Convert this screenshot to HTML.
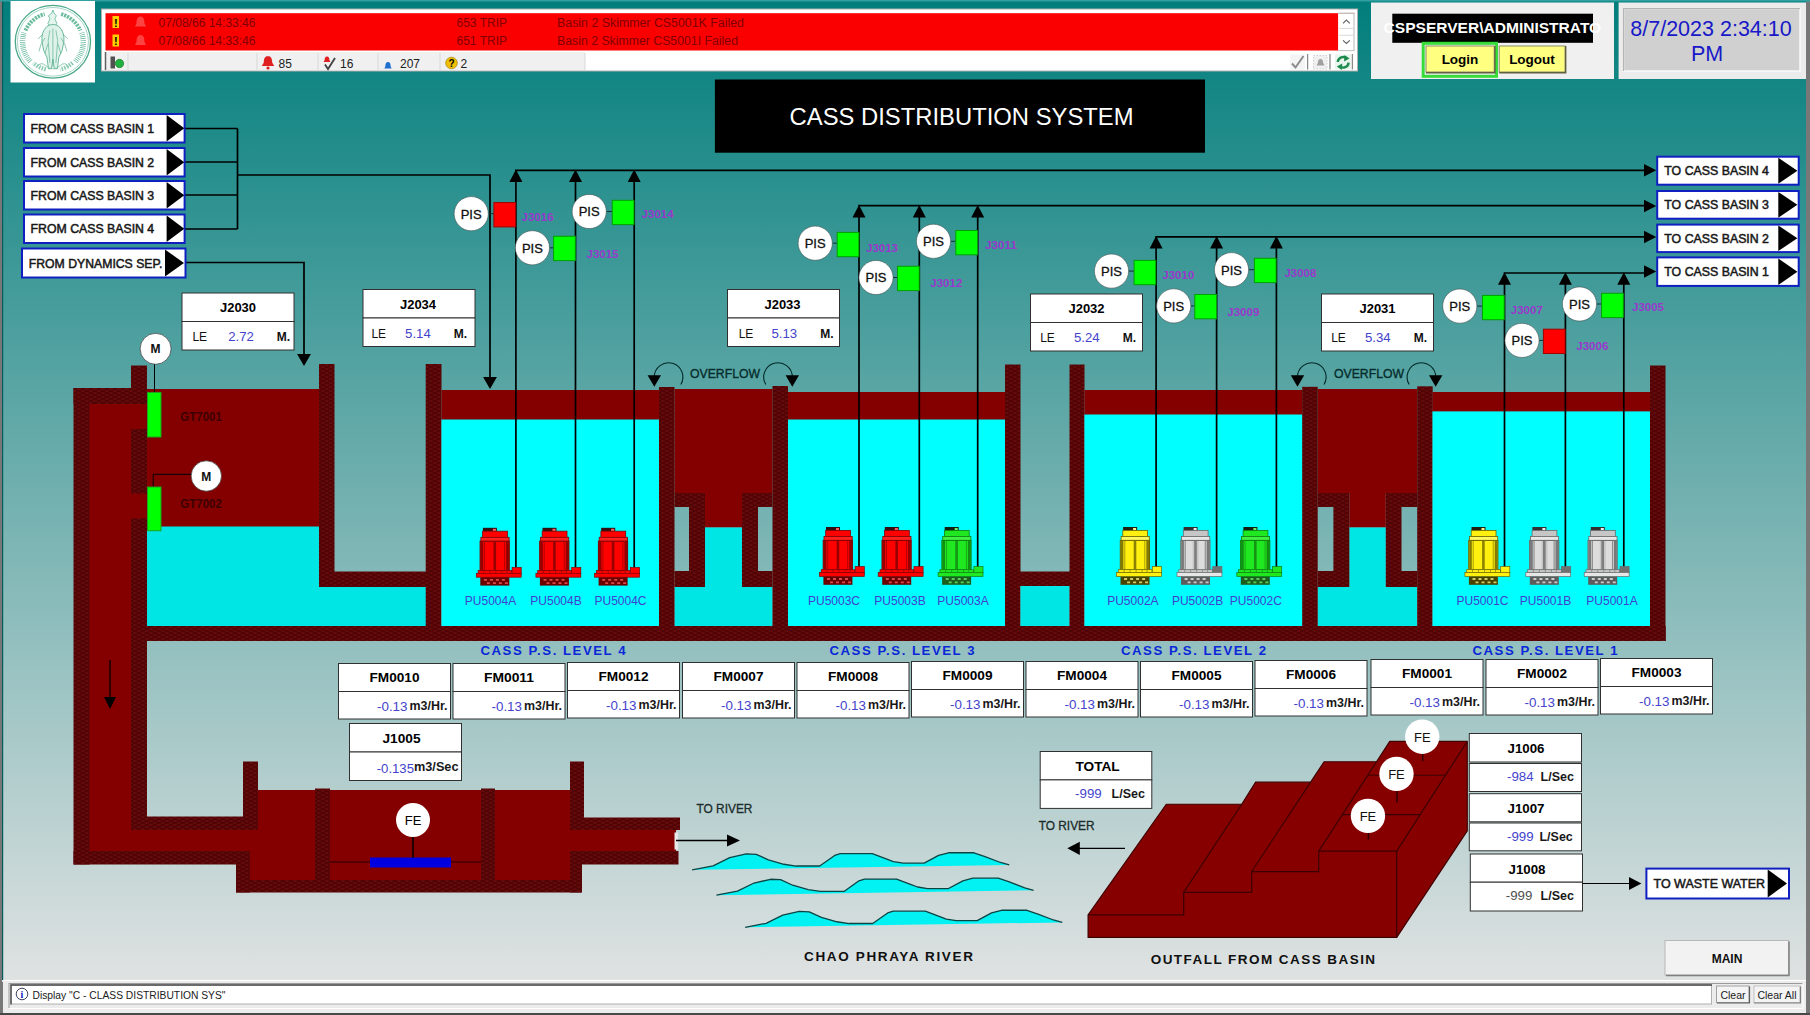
<!DOCTYPE html>
<html><head><meta charset="utf-8"><title>CASS DISTRIBUTION SYSTEM</title>
<style>html,body{margin:0;padding:0;background:#787878;overflow:hidden}svg{display:block}</style>
</head><body>
<svg width="1810" height="1015" viewBox="0 0 1810 1015" font-family="Liberation Sans, Arial, sans-serif" shape-rendering="auto">
<defs>
<linearGradient id="bg" x1="0" y1="0" x2="0" y2="1">
<stop offset="0" stop-color="#017e7c"/><stop offset="1" stop-color="#e0e2e2"/>
</linearGradient>
<pattern id="brick" width="8" height="4" patternUnits="userSpaceOnUse">
<rect width="8" height="4" fill="#620a0c"/>
<rect x="0.5" y="0.4" width="4.6" height="1.2" fill="#470000"/>
<rect x="4.5" y="2.4" width="3.5" height="1.2" fill="#470000"/><rect x="0" y="2.4" width="1.1" height="1.2" fill="#470000"/>
</pattern>
</defs>
<rect x="0" y="0" width="1810" height="1015" fill="#787878" />
<rect x="2" y="1" width="1804" height="981" fill="url(#bg)" />
<rect x="2" y="1" width="1.2" height="979" fill="#045c5c" />
<rect x="0" y="0" width="1810" height="1.5" fill="#30a0a0" />
<rect x="10.5" y="1" width="84.5" height="81.5" fill="#ffffff" />
<g transform="translate(52.9,41.8) scale(0.995,0.962)" fill="none" stroke="#4aa888">
<circle r="37.8" stroke-width="1.3"/><circle r="35.700" stroke-width="0.7" stroke="#7cc4a8"/>
<path d="M-22.67 20.41 A30.5 30.5 0 0 1 -29.01 -9.43" stroke-width="5.500" stroke-dasharray="0.7 1.25" stroke="#5cb496"/>
<path d="M29.01 -9.43 A30.5 30.5 0 0 1 22.67 20.41" stroke-width="5.500" stroke-dasharray="0.7 1.25" stroke="#5cb496"/>
<path d="M-27.62 -11.72 A30 30 0 0 1 -8.27 -28.84" stroke-width="4" stroke-dasharray="2.2 1" stroke="#6cbc9e"/>
<path d="M8.27 -28.84 A30 30 0 0 1 27.62 -11.72" stroke-width="4" stroke-dasharray="2.2 1" stroke="#6cbc9e"/>
<path d="M19.74 21.92 A29.5 29.5 0 0 1 7.14 28.62" stroke-width="4.500" stroke-dasharray="1.6 1.2" stroke="#8cccb4"/>
<path d="M-7.14 28.62 A29.5 29.5 0 0 1 -19.74 21.92" stroke-width="4.500" stroke-dasharray="1.6 1.2" stroke="#8cccb4"/>
<path d="M-1 -30 l1 -3 l1 3 l2.500 3 l-1.500 3 l2 5 l-2 3 l-5 0 l-2 -3 l2 -5 l-1.500 -3z" fill="#e4f5ed" stroke-width="0.7"/>
<path d="M-6 -16 q6 -4 12 0 q6 6 5 16 q-1 10 -5 16 l-1.500 12 l-3 0 l-1.500 -10 l-1.500 10 l-3 0 l-1.500 -12 q-4 -6 -5 -16 q-1 -10 5 -16z" fill="#e0f3ea" stroke-width="0.8"/>
<path d="M-3 -12 q-3 10 -1 22 l1 12 M3 -12 q3 10 1 22 l-1 12 M0 -14 v40 M-8 -4 q-5 6 -6 14 M8 -4 q5 6 6 14 M-10 -8 l-5 5 M10 -8 l5 5 M-5 2 l-3 10 M5 2 l3 10" stroke-width="0.7" stroke="#5cb094"/>
<path d="M-16 26 q4 -6 9 -1 q3 3 7 3 q4 0 7 -3 q5 -5 9 1" stroke-width="0.9" stroke="#7cc4a8"/>
</g>
<rect x="101.5" y="9" width="1256" height="62" fill="#ffffff" stroke="#b0b0b0" stroke-width="1" />
<rect x="105.5" y="13.2" width="1232.8" height="37.3" fill="#fb0000" />
<rect x="1338.3" y="13.2" width="15.2" height="37.3" fill="#ffffff" />
<path d="M1354 13 L1354 51" fill="none" stroke="#c4c4c4" stroke-width="1.2" />
<path d="M1338.3 13.2 L1354.5 13.2" fill="none" stroke="#b0a0a0" stroke-width="1" />
<path d="M1339 28.4 L1353 28.4" fill="none" stroke="#d0d0d0" stroke-width="0.8" />
<path d="M1339 35.3 L1353 35.3" fill="none" stroke="#d0d0d0" stroke-width="0.8" />
<path d="M1338.3 50.6 L1354.5 50.6" fill="none" stroke="#c0c0c0" stroke-width="1" />
<path d="M1343 23.3 L1346.4 20.1 L1349.8 23.3" fill="none" stroke="#606060" stroke-width="1.1" />
<path d="M1343 40.3 L1346.4 43.5 L1349.8 40.3" fill="none" stroke="#606060" stroke-width="1.1" />
<rect x="105.5" y="52" width="479.5" height="18" fill="#f0f0f0" />
<path d="M128 53 L128 70" fill="none" stroke="#d8d8d8" stroke-width="1" />
<path d="M257 53 L257 70" fill="none" stroke="#d8d8d8" stroke-width="1" />
<path d="M318 53 L318 70" fill="none" stroke="#d8d8d8" stroke-width="1" />
<path d="M378 53 L378 70" fill="none" stroke="#d8d8d8" stroke-width="1" />
<path d="M440 53 L440 70" fill="none" stroke="#d8d8d8" stroke-width="1" />
<path d="M585 53 L585 70" fill="none" stroke="#d8d8d8" stroke-width="1" />
<path d="M105.5 52 L105.5 70" fill="none" stroke="#606060" stroke-width="1.5" />
<rect x="112.5" y="16" width="6.5" height="12" fill="#ffcc00" />
<text x="115.8" y="26.5" font-size="11" fill="#000" font-weight="bold" text-anchor="middle" >!</text>
<path d="M140.5 16.5 c-3 0 -4 3 -4 7 l-1.5 3 h11 l-1.5 -3 c0 -4 -1 -7 -4 -7z" fill="#ff5a5a" opacity="0.75"/>
<text x="158.5" y="26.5" font-size="12" fill="#800000" font-weight="normal" text-anchor="start" textLength="97" lengthAdjust="spacingAndGlyphs">07/08/66 14:33:46</text>
<text x="456.5" y="26.5" font-size="12" fill="#800000" font-weight="normal" text-anchor="start" >653 TRIP</text>
<text x="557" y="26.5" font-size="12" fill="#800000" font-weight="normal" text-anchor="start" textLength="187" lengthAdjust="spacingAndGlyphs">Basin 2 Skimmer CS5001K Failed</text>
<rect x="112.5" y="34.5" width="6.5" height="12" fill="#ffcc00" />
<text x="115.8" y="45" font-size="11" fill="#000" font-weight="bold" text-anchor="middle" >!</text>
<path d="M140.5 35 c-3 0 -4 3 -4 7 l-1.5 3 h11 l-1.5 -3 c0 -4 -1 -7 -4 -7z" fill="#ff5a5a" opacity="0.75"/>
<text x="158.5" y="45" font-size="12" fill="#800000" font-weight="normal" text-anchor="start" textLength="97" lengthAdjust="spacingAndGlyphs">07/08/66 14:33:46</text>
<text x="456.5" y="45" font-size="12" fill="#800000" font-weight="normal" text-anchor="start" >651 TRIP</text>
<text x="557" y="45" font-size="12" fill="#800000" font-weight="normal" text-anchor="start" textLength="181" lengthAdjust="spacingAndGlyphs">Basin 2 Skimmer CS5001I Failed</text>
<rect x="110.5" y="56.5" width="4.5" height="12" fill="#505050" />
<circle cx="119.5" cy="63.5" r="4.2" fill="#20b040" stroke="#107020" stroke-width="0.6"/>
<path d="M268 56 c-3.2 0 -4.2 3 -4.2 6.5 l-2 3.5 h12.4 l-2 -3.5 c0 -3.5 -1 -6.5 -4.2 -6.5z" fill="#e02020"/><circle cx="268" cy="68" r="1.6" fill="#e02020"/>
<text x="278.5" y="67.5" font-size="12" fill="#202020" font-weight="normal" text-anchor="start" >85</text>
<path d="M327 56.5 c-1.8 0 -2.4 1.6 -2.4 3.6 l-1 1.8 h6.8 l-1 -1.8 c0 -2 -0.6 -3.6 -2.4 -3.6z" fill="#e02020"/>
<path d="M325 64.5 L328 69 L335 58" fill="none" stroke="#404040" stroke-width="1.8" />
<text x="340" y="67.5" font-size="12" fill="#202020" font-weight="normal" text-anchor="start" >16</text>
<path d="M388 62 c-2 0 -2.6 2 -2.6 4 l-1 2.4 h7.2 l-1 -2.4 c0 -2 -0.6 -4 -2.6 -4z" fill="#2070d0"/>
<text x="400" y="67.5" font-size="12" fill="#202020" font-weight="normal" text-anchor="start" >207</text>
<circle cx="451.5" cy="63" r="5.8" fill="#f0c000" stroke="#a08000" stroke-width="0.7"/>
<text x="451.5" y="67" font-size="10" fill="#000" font-weight="bold" text-anchor="middle" >?</text>
<text x="460.5" y="67.5" font-size="12" fill="#202020" font-weight="normal" text-anchor="start" >2</text>
<rect x="1290" y="54.5" width="15" height="15" fill="#f4f4f4" />
<path d="M1292 63.5 L1295.5 67.5 L1303.5 56" fill="none" stroke="#8c8c8c" stroke-width="2" />
<path d="M1307.6 54 L1307.6 69.5" fill="none" stroke="#8a8a8a" stroke-width="1.3" />
<rect x="1313.5" y="55.5" width="13.5" height="13.5" fill="#f0f0f0" stroke="#c4c4c4" stroke-width="0.8" stroke-dasharray="1.5 1.5"/>
<path d="M1320.5 59 c-2 0 -2.600 2 -2.600 3.800 l-1.400 2.600 h8 l-1.400 -2.600 c0 -1.800 -0.600 -3.800 -2.600 -3.800z" fill="#a0a0a0"/>
<path d="M1330 54 L1330 69.5" fill="none" stroke="#8a8a8a" stroke-width="1.3" />
<rect x="1335" y="54.5" width="16" height="15" fill="#e8f6ee" />
<path d="M1337.800 62 a5.400 5.400 0 0 1 9 -3.600" fill="none" stroke="#1e8a4e" stroke-width="2.400"/><path d="M1348.600 62.600 a5.400 5.400 0 0 1 -9 3.600" fill="none" stroke="#1e8a4e" stroke-width="2.400"/>
<polygon points="1344.5,55 1349.5,58.5 1344,61.5" fill="#1e8a4e" />
<polygon points="1341.8,70 1336.8,66.5 1342.3,63.5" fill="#1e8a4e" />
<path d="M1352.4 54 L1352.4 69.5" fill="none" stroke="#8a8a8a" stroke-width="1.3" />
<rect x="1371" y="2.5" width="243" height="76.5" fill="#f0f0f0" />
<rect x="1392.3" y="13.7" width="200.7" height="29.1" fill="#000000" />
<text x="1383.6" y="33" font-size="14" fill="#ffffff" font-weight="bold" text-anchor="start" textLength="217.6" lengthAdjust="spacingAndGlyphs">CSPSERVER\ADMINISTRATO</text>
<rect x="1423.2" y="43.3" width="73.3" height="33" fill="none" stroke="#38dc38" stroke-width="3" />
<rect x="1426" y="46" width="68.2" height="26" fill="#ffff80" stroke="#8c8c6c" stroke-width="1" />
<text x="1460" y="64" font-size="13.5" fill="#000" font-weight="bold" text-anchor="middle" >Login</text>
<rect x="1499.2" y="46" width="65.8" height="26" fill="#ffff80" stroke="#8c8c6c" stroke-width="1" />
<text x="1532" y="64" font-size="13.5" fill="#000" font-weight="bold" text-anchor="middle" >Logout</text>
<path d="M1426 72.8 L1494.9 72.8 L1494.9 46" fill="none" stroke="#606040" stroke-width="1.4" />
<path d="M1499.2 72.8 L1565.7 72.8 L1565.7 46" fill="none" stroke="#606040" stroke-width="1.4" />
<rect x="1618.6" y="2.5" width="187.4" height="76.5" fill="#ececec" />
<rect x="1623.5" y="8.7" width="176.5" height="62.3" fill="#d0d0d0" stroke="#fafafa" stroke-width="1.5" />
<path d="M1623.5 71 L1623.5 8.7 L1800 8.7" fill="none" stroke="#b4b4b4" stroke-width="1.2" />
<text x="1711" y="36" font-size="21.5" fill="#1818c8" font-weight="normal" text-anchor="middle" >8/7/2023 2:34:10</text>
<text x="1707" y="61" font-size="21.5" fill="#1818c8" font-weight="normal" text-anchor="middle" >PM</text>
<rect x="714.9" y="79.5" width="490.1" height="73.2" fill="#000000" />
<text x="789.6" y="124.6" font-size="24.6" fill="#ffffff" font-weight="normal" text-anchor="start" textLength="344" lengthAdjust="spacingAndGlyphs">CASS DISTRIBUTION SYSTEM</text>
<path d="M185 128.5 L237.5 128.5" fill="none" stroke="#000" stroke-width="1.7" />
<path d="M185 162 L237.5 162" fill="none" stroke="#000" stroke-width="1.7" />
<path d="M185 195 L237.5 195" fill="none" stroke="#000" stroke-width="1.7" />
<path d="M185 229 L237.5 229" fill="none" stroke="#000" stroke-width="1.7" />
<path d="M237.5 128.5 L237.5 229" fill="none" stroke="#000" stroke-width="1.7" />
<path d="M237.5 175 L490 175 L490 380" fill="none" stroke="#000" stroke-width="1.7" />
<polygon points="490,389 483.1,377 496.9,377" fill="#000" />
<path d="M186 262.5 L304 262.5 L304 356" fill="none" stroke="#000" stroke-width="1.7" />
<polygon points="304,366 297.1,354 310.9,354" fill="#000" />
<rect x="89" y="403" width="42" height="449" fill="#840000" />
<rect x="131" y="404" width="16" height="26" fill="#840000" />
<rect x="131" y="493" width="16" height="26" fill="#840000" />
<rect x="89" y="830" width="169" height="22" fill="#840000" />
<rect x="147" y="389" width="172" height="138" fill="#840000" />
<rect x="147" y="526.5" width="172" height="99.5" fill="#00e6e4" />
<rect x="319" y="587" width="107" height="39" fill="#00e6e4" />
<rect x="73.5" y="388" width="16" height="476.5" fill="url(#brick)" />
<rect x="73.5" y="388" width="73.5" height="16" fill="url(#brick)" />
<rect x="131" y="365.5" width="16" height="38.5" fill="url(#brick)" />
<rect x="131" y="429" width="16" height="64.5" fill="url(#brick)" />
<rect x="131" y="518.5" width="16" height="311.5" fill="url(#brick)" />
<rect x="146" y="816.5" width="112" height="13.5" fill="url(#brick)" />
<rect x="73.5" y="851" width="176.5" height="13.5" fill="url(#brick)" />
<rect x="319" y="364" width="15.5" height="223" fill="url(#brick)" />
<rect x="319" y="571.5" width="107" height="15.5" fill="url(#brick)" />
<rect x="425.7" y="364" width="15.8" height="277" fill="url(#brick)" />
<rect x="147" y="626" width="1518.5" height="15" fill="url(#brick)" />
<rect x="441.5" y="390" width="217.5" height="30" fill="#840000" />
<rect x="441.5" y="419.5" width="217.5" height="206.5" fill="#00ffff" />
<rect x="674.5" y="389" width="98" height="104" fill="#840000" />
<rect x="705" y="493" width="37" height="34.5" fill="#840000" />
<rect x="705" y="527.5" width="37" height="60.5" fill="#00e6e4" />
<rect x="674.5" y="587" width="98" height="39" fill="#00e6e4" />
<rect x="659" y="387" width="15.5" height="239" fill="url(#brick)" />
<rect x="772.5" y="386" width="15.5" height="240" fill="url(#brick)" />
<path fill-rule="evenodd" fill="url(#brick)" d="M674.5 493H705V587H674.5Z M674.5 507H689V571H674.5Z"/>
<path fill-rule="evenodd" fill="url(#brick)" d="M742 493H772.5V587H742Z M758 507H772.5V571H758Z"/>
<rect x="788" y="392" width="217" height="28" fill="#840000" />
<rect x="788" y="419.5" width="217" height="206.5" fill="#00ffff" />
<rect x="1005" y="364.5" width="15.5" height="276.5" fill="url(#brick)" />
<rect x="1020" y="571.5" width="50" height="14.5" fill="url(#brick)" />
<rect x="1020.5" y="586" width="49" height="40" fill="#00e6e4" />
<rect x="1069.5" y="364.5" width="15" height="276.5" fill="url(#brick)" />
<rect x="1084.5" y="390" width="218" height="25" fill="#840000" />
<rect x="1084.5" y="414.5" width="218" height="211.5" fill="#00ffff" />
<rect x="1317.7" y="389" width="99.5" height="104" fill="#840000" />
<rect x="1349.3" y="493" width="36.5" height="34.5" fill="#840000" />
<rect x="1349.3" y="527.5" width="36.5" height="60.5" fill="#00e6e4" />
<rect x="1317.7" y="587" width="99.5" height="39" fill="#00e6e4" />
<rect x="1302.2" y="386.8" width="15.5" height="239.2" fill="url(#brick)" />
<rect x="1417.2" y="386.3" width="15.5" height="239.7" fill="url(#brick)" />
<path fill-rule="evenodd" fill="url(#brick)" d="M1317.7 493H1349.3V587H1317.7Z M1317.7 507H1333.4V571H1317.7Z"/>
<path fill-rule="evenodd" fill="url(#brick)" d="M1385.8 493H1417.2V587H1385.8Z M1401.5 507H1417.2V571H1401.5Z"/>
<rect x="1432.5" y="392" width="217.5" height="20" fill="#840000" />
<rect x="1432.5" y="411.4" width="217.5" height="214.6" fill="#00ffff" />
<rect x="1650" y="365.5" width="15.5" height="275.5" fill="url(#brick)" />
<rect x="147" y="626" width="1518.5" height="15" fill="url(#brick)" />
<rect x="258" y="790" width="312" height="90" fill="#840000" />
<rect x="570" y="830" width="106" height="21" fill="#840000" />
<rect x="250" y="851" width="8" height="29" fill="#840000" />
<rect x="243" y="761.5" width="15" height="68.5" fill="url(#brick)" />
<rect x="236" y="851" width="14" height="41.5" fill="url(#brick)" />
<rect x="236" y="880" width="345.5" height="12.5" fill="url(#brick)" />
<rect x="315" y="788.5" width="15" height="91.5" fill="url(#brick)" />
<rect x="481" y="788.5" width="14" height="91.5" fill="url(#brick)" />
<rect x="570" y="761.5" width="14" height="68.5" fill="url(#brick)" />
<rect x="570" y="817.5" width="110" height="12.5" fill="url(#brick)" />
<rect x="570" y="851" width="12" height="41.5" fill="url(#brick)" />
<rect x="570" y="851" width="108.5" height="13.5" fill="url(#brick)" />
<rect x="674.5" y="832.5" width="3.5" height="17" fill="#e8e8e8" />
<path d="M330 862 L481 862" fill="none" stroke="#200000" stroke-width="1" />
<rect x="370" y="857.5" width="81" height="10" fill="#0000e0" />
<path d="M413 836 L413 858" fill="none" stroke="#000" stroke-width="1.5" />
<circle cx="413" cy="820" r="17" fill="#ffffff"/>
<text x="413" y="825" font-size="13" fill="#000" font-weight="normal" text-anchor="middle" >FE</text>
<path d="M676 840.5 L728 840.5" fill="none" stroke="#000" stroke-width="1.3" />
<polygon points="740,840.5 727,834.5 727,846.5" fill="#000" />
<text x="696.5" y="813" font-size="12" fill="#1c2c2c" font-weight="normal" text-anchor="start" textLength="55.9" lengthAdjust="spacingAndGlyphs" stroke="#1c2c2c" stroke-width="0.3">TO RIVER</text>
<path d="M110 660 L110 698" fill="none" stroke="#000" stroke-width="1.3" />
<polygon points="110,709 104,697 116,697" fill="#000" />
<path d="M515.05 170.3 L1646 170.3" fill="none" stroke="#000" stroke-width="1.7" />
<polygon points="1656.2,170.3 1644,164.1 1644,176.5" fill="#000" />
<path d="M515.9 178.3 L515.9 567" fill="none" stroke="#000" stroke-width="1.7" />
<polygon points="515.9,169.5 509.4,182 522.4,182" fill="#000" />
<path d="M575.5 178.3 L575.5 567" fill="none" stroke="#000" stroke-width="1.7" />
<polygon points="575.5,169.5 569,182 582,182" fill="#000" />
<path d="M634.2 178.3 L634.2 567" fill="none" stroke="#000" stroke-width="1.7" />
<polygon points="634.2,169.5 627.7,182 640.7,182" fill="#000" />
<path d="M858.15 205.7 L1646 205.7" fill="none" stroke="#000" stroke-width="1.7" />
<polygon points="1656.2,206 1644,199.8 1644,212.2" fill="#000" />
<path d="M859 213.7 L859 567" fill="none" stroke="#000" stroke-width="1.7" />
<polygon points="859,204.9 852.5,217.4 865.5,217.4" fill="#000" />
<path d="M919.3 213.7 L919.3 567" fill="none" stroke="#000" stroke-width="1.7" />
<polygon points="919.3,204.9 912.8,217.4 925.8,217.4" fill="#000" />
<path d="M977.7 213.7 L977.7 567" fill="none" stroke="#000" stroke-width="1.7" />
<polygon points="977.7,204.9 971.2,217.4 984.2,217.4" fill="#000" />
<path d="M1155.25 236.8 L1646 236.8" fill="none" stroke="#000" stroke-width="1.7" />
<polygon points="1656.2,237 1644,230.8 1644,243.2" fill="#000" />
<path d="M1156.1 244.8 L1156.1 567" fill="none" stroke="#000" stroke-width="1.7" />
<polygon points="1156.1,236 1149.6,248.5 1162.6,248.5" fill="#000" />
<path d="M1216.6 244.8 L1216.6 567" fill="none" stroke="#000" stroke-width="1.7" />
<polygon points="1216.6,236 1210.1,248.5 1223.1,248.5" fill="#000" />
<path d="M1276.4 244.8 L1276.4 567" fill="none" stroke="#000" stroke-width="1.7" />
<polygon points="1276.4,236 1269.9,248.5 1282.9,248.5" fill="#000" />
<path d="M1503.65 273 L1646 273" fill="none" stroke="#000" stroke-width="1.7" />
<polygon points="1656.2,271.5 1644,265.3 1644,277.7" fill="#000" />
<path d="M1504.5 281 L1504.5 567" fill="none" stroke="#000" stroke-width="1.7" />
<polygon points="1504.5,272.2 1498,284.7 1511,284.7" fill="#000" />
<path d="M1565.4 281 L1565.4 567" fill="none" stroke="#000" stroke-width="1.7" />
<polygon points="1565.4,272.2 1558.9,284.7 1571.9,284.7" fill="#000" />
<path d="M1623.8 281 L1623.8 567" fill="none" stroke="#000" stroke-width="1.7" />
<polygon points="1623.8,272.2 1617.3,284.7 1630.3,284.7" fill="#000" />
<g transform="translate(0,0)">
<g transform="translate(515.9,0.8)">
<rect x="-33" y="527" width="14" height="3.8" fill="#301010"/><rect x="-23" y="528" width="3" height="2.4" fill="#ff6060"/>
<rect x="-33.3" y="530.4" width="24.8" height="6.3" fill="#ff0000" stroke="#800000" stroke-width="0.8"/>
<rect x="-35" y="536.5" width="28.2" height="4" fill="#ff2020" stroke="#800000" stroke-width="0.8"/>
<rect x="-35.8" y="540.4" width="29.2" height="29.5" fill="#ff0000" stroke="#800000" stroke-width="1"/>
<rect x="-35.3" y="540.9" width="2.6" height="28.6" fill="#800000" opacity="0.85"/><rect x="-9.8" y="540.9" width="2.8" height="28.6" fill="#800000" opacity="0.85"/>
<rect x="-31.8" y="540.9" width="1" height="28.6" fill="#800000" opacity="0.6"/><rect x="-11.8" y="540.9" width="1" height="28.6" fill="#800000" opacity="0.6"/>
<rect x="-22.4" y="540.9" width="2.6" height="28.6" fill="#800000" opacity="0.8"/>
<rect x="-35.6" y="576.3" width="29" height="8.5" fill="#6a0000"/>
<path d="M-32 579h3 M-26 579h3 M-20 579h3 M-14 579h3 M-29 582.3h3 M-23 582.3h3 M-17 582.3h3 M-11 582.3h3" stroke="#ff6060" stroke-width="1.8" opacity="0.75"/>
<rect x="-37.8" y="569.7" width="33.7" height="3" fill="#ff0000" stroke="#800000" stroke-width="0.7"/>
<path d="M-32 570v2.5 M-26 570v2.5 M-20 570v2.5 M-14 570v2.5 M-9 570v2.5" stroke="#800000" stroke-width="0.8" opacity="0.7"/>
<rect x="-3.8" y="566.6" width="9.1" height="6.5" fill="#ff0000" stroke="#800000" stroke-width="0.7"/>
<rect x="-39.6" y="572.5" width="44.9" height="3.9" fill="#ff0000" stroke="#800000" stroke-width="0.7"/>
</g>
</g>
<text x="490.5" y="604.5" font-size="12" fill="#4040d0" font-weight="normal" text-anchor="middle" >PU5004A</text>
<g transform="translate(0,0)">
<g transform="translate(575.5,0.8)">
<rect x="-33" y="527" width="14" height="3.8" fill="#301010"/><rect x="-23" y="528" width="3" height="2.4" fill="#ff6060"/>
<rect x="-33.3" y="530.4" width="24.8" height="6.3" fill="#ff0000" stroke="#800000" stroke-width="0.8"/>
<rect x="-35" y="536.5" width="28.2" height="4" fill="#ff2020" stroke="#800000" stroke-width="0.8"/>
<rect x="-35.8" y="540.4" width="29.2" height="29.5" fill="#ff0000" stroke="#800000" stroke-width="1"/>
<rect x="-35.3" y="540.9" width="2.6" height="28.6" fill="#800000" opacity="0.85"/><rect x="-9.8" y="540.9" width="2.8" height="28.6" fill="#800000" opacity="0.85"/>
<rect x="-31.8" y="540.9" width="1" height="28.6" fill="#800000" opacity="0.6"/><rect x="-11.8" y="540.9" width="1" height="28.6" fill="#800000" opacity="0.6"/>
<rect x="-22.4" y="540.9" width="2.6" height="28.6" fill="#800000" opacity="0.8"/>
<rect x="-35.6" y="576.3" width="29" height="8.5" fill="#6a0000"/>
<path d="M-32 579h3 M-26 579h3 M-20 579h3 M-14 579h3 M-29 582.3h3 M-23 582.3h3 M-17 582.3h3 M-11 582.3h3" stroke="#ff6060" stroke-width="1.8" opacity="0.75"/>
<rect x="-37.8" y="569.7" width="33.7" height="3" fill="#ff0000" stroke="#800000" stroke-width="0.7"/>
<path d="M-32 570v2.5 M-26 570v2.5 M-20 570v2.5 M-14 570v2.5 M-9 570v2.5" stroke="#800000" stroke-width="0.8" opacity="0.7"/>
<rect x="-3.8" y="566.6" width="9.1" height="6.5" fill="#ff0000" stroke="#800000" stroke-width="0.7"/>
<rect x="-39.6" y="572.5" width="44.9" height="3.9" fill="#ff0000" stroke="#800000" stroke-width="0.7"/>
</g>
</g>
<text x="556" y="604.5" font-size="12" fill="#4040d0" font-weight="normal" text-anchor="middle" >PU5004B</text>
<g transform="translate(0,0)">
<g transform="translate(634.2,0.8)">
<rect x="-33" y="527" width="14" height="3.8" fill="#301010"/><rect x="-23" y="528" width="3" height="2.4" fill="#ff6060"/>
<rect x="-33.3" y="530.4" width="24.8" height="6.3" fill="#ff0000" stroke="#800000" stroke-width="0.8"/>
<rect x="-35" y="536.5" width="28.2" height="4" fill="#ff2020" stroke="#800000" stroke-width="0.8"/>
<rect x="-35.8" y="540.4" width="29.2" height="29.5" fill="#ff0000" stroke="#800000" stroke-width="1"/>
<rect x="-35.3" y="540.9" width="2.6" height="28.6" fill="#800000" opacity="0.85"/><rect x="-9.8" y="540.9" width="2.8" height="28.6" fill="#800000" opacity="0.85"/>
<rect x="-31.8" y="540.9" width="1" height="28.6" fill="#800000" opacity="0.6"/><rect x="-11.8" y="540.9" width="1" height="28.6" fill="#800000" opacity="0.6"/>
<rect x="-22.4" y="540.9" width="2.6" height="28.6" fill="#800000" opacity="0.8"/>
<rect x="-35.6" y="576.3" width="29" height="8.5" fill="#6a0000"/>
<path d="M-32 579h3 M-26 579h3 M-20 579h3 M-14 579h3 M-29 582.3h3 M-23 582.3h3 M-17 582.3h3 M-11 582.3h3" stroke="#ff6060" stroke-width="1.8" opacity="0.75"/>
<rect x="-37.8" y="569.7" width="33.7" height="3" fill="#ff0000" stroke="#800000" stroke-width="0.7"/>
<path d="M-32 570v2.5 M-26 570v2.5 M-20 570v2.5 M-14 570v2.5 M-9 570v2.5" stroke="#800000" stroke-width="0.8" opacity="0.7"/>
<rect x="-3.8" y="566.6" width="9.1" height="6.5" fill="#ff0000" stroke="#800000" stroke-width="0.7"/>
<rect x="-39.6" y="572.5" width="44.9" height="3.9" fill="#ff0000" stroke="#800000" stroke-width="0.7"/>
</g>
</g>
<text x="620.5" y="604.5" font-size="12" fill="#4040d0" font-weight="normal" text-anchor="middle" >PU5004C</text>
<g transform="translate(0,0)">
<g transform="translate(859,0)">
<rect x="-33" y="527" width="14" height="3.8" fill="#301010"/><rect x="-23" y="528" width="3" height="2.4" fill="#ff6060"/>
<rect x="-33.3" y="530.4" width="24.8" height="6.3" fill="#ff0000" stroke="#800000" stroke-width="0.8"/>
<rect x="-35" y="536.5" width="28.2" height="4" fill="#ff2020" stroke="#800000" stroke-width="0.8"/>
<rect x="-35.8" y="540.4" width="29.2" height="29.5" fill="#ff0000" stroke="#800000" stroke-width="1"/>
<rect x="-35.3" y="540.9" width="2.6" height="28.6" fill="#800000" opacity="0.85"/><rect x="-9.8" y="540.9" width="2.8" height="28.6" fill="#800000" opacity="0.85"/>
<rect x="-31.8" y="540.9" width="1" height="28.6" fill="#800000" opacity="0.6"/><rect x="-11.8" y="540.9" width="1" height="28.6" fill="#800000" opacity="0.6"/>
<rect x="-22.4" y="540.9" width="2.6" height="28.6" fill="#800000" opacity="0.8"/>
<rect x="-35.6" y="576.3" width="29" height="8.5" fill="#6a0000"/>
<path d="M-32 579h3 M-26 579h3 M-20 579h3 M-14 579h3 M-29 582.3h3 M-23 582.3h3 M-17 582.3h3 M-11 582.3h3" stroke="#ff6060" stroke-width="1.8" opacity="0.75"/>
<rect x="-37.8" y="569.7" width="33.7" height="3" fill="#ff0000" stroke="#800000" stroke-width="0.7"/>
<path d="M-32 570v2.5 M-26 570v2.5 M-20 570v2.5 M-14 570v2.5 M-9 570v2.5" stroke="#800000" stroke-width="0.8" opacity="0.7"/>
<rect x="-3.8" y="566.6" width="9.1" height="6.5" fill="#ff0000" stroke="#800000" stroke-width="0.7"/>
<rect x="-39.6" y="572.5" width="44.9" height="3.9" fill="#ff0000" stroke="#800000" stroke-width="0.7"/>
</g>
</g>
<text x="834" y="604.5" font-size="12" fill="#4040d0" font-weight="normal" text-anchor="middle" >PU5003C</text>
<g transform="translate(-1.5,0)">
<g transform="translate(919.3,0)">
<rect x="-33" y="527" width="14" height="3.8" fill="#301010"/><rect x="-23" y="528" width="3" height="2.4" fill="#ff6060"/>
<rect x="-33.3" y="530.4" width="24.8" height="6.3" fill="#ff0000" stroke="#800000" stroke-width="0.8"/>
<rect x="-35" y="536.5" width="28.2" height="4" fill="#ff2020" stroke="#800000" stroke-width="0.8"/>
<rect x="-35.8" y="540.4" width="29.2" height="29.5" fill="#ff0000" stroke="#800000" stroke-width="1"/>
<rect x="-35.3" y="540.9" width="2.6" height="28.6" fill="#800000" opacity="0.85"/><rect x="-9.8" y="540.9" width="2.8" height="28.6" fill="#800000" opacity="0.85"/>
<rect x="-31.8" y="540.9" width="1" height="28.6" fill="#800000" opacity="0.6"/><rect x="-11.8" y="540.9" width="1" height="28.6" fill="#800000" opacity="0.6"/>
<rect x="-22.4" y="540.9" width="2.6" height="28.6" fill="#800000" opacity="0.8"/>
<rect x="-35.6" y="576.3" width="29" height="8.5" fill="#6a0000"/>
<path d="M-32 579h3 M-26 579h3 M-20 579h3 M-14 579h3 M-29 582.3h3 M-23 582.3h3 M-17 582.3h3 M-11 582.3h3" stroke="#ff6060" stroke-width="1.8" opacity="0.75"/>
<rect x="-37.8" y="569.7" width="33.7" height="3" fill="#ff0000" stroke="#800000" stroke-width="0.7"/>
<path d="M-32 570v2.5 M-26 570v2.5 M-20 570v2.5 M-14 570v2.5 M-9 570v2.5" stroke="#800000" stroke-width="0.8" opacity="0.7"/>
<rect x="-3.8" y="566.6" width="9.1" height="6.5" fill="#ff0000" stroke="#800000" stroke-width="0.7"/>
<rect x="-39.6" y="572.5" width="44.9" height="3.9" fill="#ff0000" stroke="#800000" stroke-width="0.7"/>
</g>
</g>
<text x="900" y="604.5" font-size="12" fill="#4040d0" font-weight="normal" text-anchor="middle" >PU5003B</text>
<g transform="translate(0,0)">
<g transform="translate(977.7,0)">
<rect x="-33" y="527" width="14" height="3.8" fill="#102010"/><rect x="-23" y="528" width="3" height="2.4" fill="#70f070"/>
<rect x="-33.3" y="530.4" width="24.8" height="6.3" fill="#20e820" stroke="#108010" stroke-width="0.8"/>
<rect x="-35" y="536.5" width="28.2" height="4" fill="#40f040" stroke="#108010" stroke-width="0.8"/>
<rect x="-35.8" y="540.4" width="29.2" height="29.5" fill="#20e820" stroke="#108010" stroke-width="1"/>
<rect x="-35.3" y="540.9" width="2.6" height="28.6" fill="#108010" opacity="0.85"/><rect x="-9.8" y="540.9" width="2.8" height="28.6" fill="#108010" opacity="0.85"/>
<rect x="-31.8" y="540.9" width="1" height="28.6" fill="#108010" opacity="0.6"/><rect x="-11.8" y="540.9" width="1" height="28.6" fill="#108010" opacity="0.6"/>
<rect x="-22.4" y="540.9" width="2.6" height="28.6" fill="#108010" opacity="0.8"/>
<rect x="-35.6" y="576.3" width="29" height="8.5" fill="#1c5c1c"/>
<path d="M-32 579h3 M-26 579h3 M-20 579h3 M-14 579h3 M-29 582.3h3 M-23 582.3h3 M-17 582.3h3 M-11 582.3h3" stroke="#70f070" stroke-width="1.8" opacity="0.75"/>
<rect x="-37.8" y="569.7" width="33.7" height="3" fill="#20e820" stroke="#108010" stroke-width="0.7"/>
<path d="M-32 570v2.5 M-26 570v2.5 M-20 570v2.5 M-14 570v2.5 M-9 570v2.5" stroke="#108010" stroke-width="0.8" opacity="0.7"/>
<rect x="-3.8" y="566.6" width="9.1" height="6.5" fill="#20e820" stroke="#108010" stroke-width="0.7"/>
<rect x="-39.6" y="572.5" width="44.9" height="3.9" fill="#20e820" stroke="#108010" stroke-width="0.7"/>
</g>
</g>
<text x="963" y="604.5" font-size="12" fill="#4040d0" font-weight="normal" text-anchor="middle" >PU5003A</text>
<g transform="translate(0,0)">
<g transform="translate(1156.1,0)">
<rect x="-33" y="527" width="14" height="3.8" fill="#202010"/><rect x="-23" y="528" width="3" height="2.4" fill="#fff890"/>
<rect x="-33.3" y="530.4" width="24.8" height="6.3" fill="#fff010" stroke="#6e6600" stroke-width="0.8"/>
<rect x="-35" y="536.5" width="28.2" height="4" fill="#fff860" stroke="#6e6600" stroke-width="0.8"/>
<rect x="-35.8" y="540.4" width="29.2" height="29.5" fill="#fff010" stroke="#6e6600" stroke-width="1"/>
<rect x="-35.3" y="540.9" width="2.6" height="28.6" fill="#6e6600" opacity="0.85"/><rect x="-9.8" y="540.9" width="2.8" height="28.6" fill="#6e6600" opacity="0.85"/>
<rect x="-31.8" y="540.9" width="1" height="28.6" fill="#6e6600" opacity="0.6"/><rect x="-11.8" y="540.9" width="1" height="28.6" fill="#6e6600" opacity="0.6"/>
<rect x="-22.4" y="540.9" width="2.6" height="28.6" fill="#6e6600" opacity="0.8"/>
<rect x="-35.6" y="576.3" width="29" height="8.5" fill="#484400"/>
<path d="M-32 579h3 M-26 579h3 M-20 579h3 M-14 579h3 M-29 582.3h3 M-23 582.3h3 M-17 582.3h3 M-11 582.3h3" stroke="#fff890" stroke-width="1.8" opacity="0.75"/>
<rect x="-37.8" y="569.7" width="33.7" height="3" fill="#fff010" stroke="#6e6600" stroke-width="0.7"/>
<path d="M-32 570v2.5 M-26 570v2.5 M-20 570v2.5 M-14 570v2.5 M-9 570v2.5" stroke="#6e6600" stroke-width="0.8" opacity="0.7"/>
<rect x="-3.8" y="566.6" width="9.1" height="6.5" fill="#fff010" stroke="#6e6600" stroke-width="0.7"/>
<rect x="-39.6" y="572.5" width="44.9" height="3.9" fill="#fff010" stroke="#6e6600" stroke-width="0.7"/>
</g>
</g>
<text x="1132.9" y="604.5" font-size="12" fill="#4040d0" font-weight="normal" text-anchor="middle" >PU5002A</text>
<g transform="translate(0,0)">
<g transform="translate(1216.6,0)">
<rect x="-33" y="527" width="14" height="3.8" fill="#303030"/><rect x="-23" y="528" width="3" height="2.4" fill="#f0f0f0"/>
<rect x="-33.3" y="530.4" width="24.8" height="6.3" fill="#c6c6c6" stroke="#6a6a6a" stroke-width="0.8"/>
<rect x="-35" y="536.5" width="28.2" height="4" fill="#e6e6e6" stroke="#6a6a6a" stroke-width="0.8"/>
<rect x="-35.8" y="540.4" width="29.2" height="29.5" fill="#c6c6c6" stroke="#6a6a6a" stroke-width="1"/>
<rect x="-31" y="541" width="7" height="28.5" fill="#dcdcdc"/><rect x="-18" y="541" width="6" height="28.5" fill="#dcdcdc"/>
<rect x="-35.3" y="540.9" width="2.6" height="28.6" fill="#6a6a6a" opacity="0.85"/><rect x="-9.8" y="540.9" width="2.8" height="28.6" fill="#6a6a6a" opacity="0.85"/>
<rect x="-31.8" y="540.9" width="1" height="28.6" fill="#6a6a6a" opacity="0.6"/><rect x="-11.8" y="540.9" width="1" height="28.6" fill="#6a6a6a" opacity="0.6"/>
<rect x="-22.4" y="540.9" width="2.6" height="28.6" fill="#6a6a6a" opacity="0.8"/>
<rect x="-35.6" y="576.3" width="29" height="8.5" fill="#5c5c5c"/>
<path d="M-32 579h3 M-26 579h3 M-20 579h3 M-14 579h3 M-29 582.3h3 M-23 582.3h3 M-17 582.3h3 M-11 582.3h3" stroke="#f0f0f0" stroke-width="1.8" opacity="0.75"/>
<rect x="-37.8" y="569.7" width="33.7" height="3" fill="#c6c6c6" stroke="#6a6a6a" stroke-width="0.7"/>
<path d="M-32 570v2.5 M-26 570v2.5 M-20 570v2.5 M-14 570v2.5 M-9 570v2.5" stroke="#6a6a6a" stroke-width="0.8" opacity="0.7"/>
<rect x="-3.8" y="566.6" width="9.1" height="6.5" fill="#707070" stroke="#6a6a6a" stroke-width="0.7"/>
<rect x="-39.6" y="572.5" width="44.9" height="3.9" fill="#e6e6e6" stroke="#6a6a6a" stroke-width="0.7"/>
</g>
</g>
<text x="1197.6" y="604.5" font-size="12" fill="#4040d0" font-weight="normal" text-anchor="middle" >PU5002B</text>
<g transform="translate(0,0)">
<g transform="translate(1276.4,0)">
<rect x="-33" y="527" width="14" height="3.8" fill="#102010"/><rect x="-23" y="528" width="3" height="2.4" fill="#70f070"/>
<rect x="-33.3" y="530.4" width="24.8" height="6.3" fill="#20e820" stroke="#108010" stroke-width="0.8"/>
<rect x="-35" y="536.5" width="28.2" height="4" fill="#40f040" stroke="#108010" stroke-width="0.8"/>
<rect x="-35.8" y="540.4" width="29.2" height="29.5" fill="#20e820" stroke="#108010" stroke-width="1"/>
<rect x="-35.3" y="540.9" width="2.6" height="28.6" fill="#108010" opacity="0.85"/><rect x="-9.8" y="540.9" width="2.8" height="28.6" fill="#108010" opacity="0.85"/>
<rect x="-31.8" y="540.9" width="1" height="28.6" fill="#108010" opacity="0.6"/><rect x="-11.8" y="540.9" width="1" height="28.6" fill="#108010" opacity="0.6"/>
<rect x="-22.4" y="540.9" width="2.6" height="28.6" fill="#108010" opacity="0.8"/>
<rect x="-35.6" y="576.3" width="29" height="8.5" fill="#1c5c1c"/>
<path d="M-32 579h3 M-26 579h3 M-20 579h3 M-14 579h3 M-29 582.3h3 M-23 582.3h3 M-17 582.3h3 M-11 582.3h3" stroke="#70f070" stroke-width="1.8" opacity="0.75"/>
<rect x="-37.8" y="569.7" width="33.7" height="3" fill="#20e820" stroke="#108010" stroke-width="0.7"/>
<path d="M-32 570v2.5 M-26 570v2.5 M-20 570v2.5 M-14 570v2.5 M-9 570v2.5" stroke="#108010" stroke-width="0.8" opacity="0.7"/>
<rect x="-3.8" y="566.6" width="9.1" height="6.5" fill="#20e820" stroke="#108010" stroke-width="0.7"/>
<rect x="-39.6" y="572.5" width="44.9" height="3.9" fill="#20e820" stroke="#108010" stroke-width="0.7"/>
</g>
</g>
<text x="1255.8" y="604.5" font-size="12" fill="#4040d0" font-weight="normal" text-anchor="middle" >PU5002C</text>
<g transform="translate(0,0)">
<g transform="translate(1504.5,0)">
<rect x="-33" y="527" width="14" height="3.8" fill="#202010"/><rect x="-23" y="528" width="3" height="2.4" fill="#fff890"/>
<rect x="-33.3" y="530.4" width="24.8" height="6.3" fill="#fff010" stroke="#6e6600" stroke-width="0.8"/>
<rect x="-35" y="536.5" width="28.2" height="4" fill="#fff860" stroke="#6e6600" stroke-width="0.8"/>
<rect x="-35.8" y="540.4" width="29.2" height="29.5" fill="#fff010" stroke="#6e6600" stroke-width="1"/>
<rect x="-35.3" y="540.9" width="2.6" height="28.6" fill="#6e6600" opacity="0.85"/><rect x="-9.8" y="540.9" width="2.8" height="28.6" fill="#6e6600" opacity="0.85"/>
<rect x="-31.8" y="540.9" width="1" height="28.6" fill="#6e6600" opacity="0.6"/><rect x="-11.8" y="540.9" width="1" height="28.6" fill="#6e6600" opacity="0.6"/>
<rect x="-22.4" y="540.9" width="2.6" height="28.6" fill="#6e6600" opacity="0.8"/>
<rect x="-35.6" y="576.3" width="29" height="8.5" fill="#484400"/>
<path d="M-32 579h3 M-26 579h3 M-20 579h3 M-14 579h3 M-29 582.3h3 M-23 582.3h3 M-17 582.3h3 M-11 582.3h3" stroke="#fff890" stroke-width="1.8" opacity="0.75"/>
<rect x="-37.8" y="569.7" width="33.7" height="3" fill="#fff010" stroke="#6e6600" stroke-width="0.7"/>
<path d="M-32 570v2.5 M-26 570v2.5 M-20 570v2.5 M-14 570v2.5 M-9 570v2.5" stroke="#6e6600" stroke-width="0.8" opacity="0.7"/>
<rect x="-3.8" y="566.6" width="9.1" height="6.5" fill="#fff010" stroke="#6e6600" stroke-width="0.7"/>
<rect x="-39.6" y="572.5" width="44.9" height="3.9" fill="#fff010" stroke="#6e6600" stroke-width="0.7"/>
</g>
</g>
<text x="1482.5" y="604.5" font-size="12" fill="#4040d0" font-weight="normal" text-anchor="middle" >PU5001C</text>
<g transform="translate(0,0)">
<g transform="translate(1565.4,0)">
<rect x="-33" y="527" width="14" height="3.8" fill="#303030"/><rect x="-23" y="528" width="3" height="2.4" fill="#f0f0f0"/>
<rect x="-33.3" y="530.4" width="24.8" height="6.3" fill="#c6c6c6" stroke="#6a6a6a" stroke-width="0.8"/>
<rect x="-35" y="536.5" width="28.2" height="4" fill="#e6e6e6" stroke="#6a6a6a" stroke-width="0.8"/>
<rect x="-35.8" y="540.4" width="29.2" height="29.5" fill="#c6c6c6" stroke="#6a6a6a" stroke-width="1"/>
<rect x="-31" y="541" width="7" height="28.5" fill="#dcdcdc"/><rect x="-18" y="541" width="6" height="28.5" fill="#dcdcdc"/>
<rect x="-35.3" y="540.9" width="2.6" height="28.6" fill="#6a6a6a" opacity="0.85"/><rect x="-9.8" y="540.9" width="2.8" height="28.6" fill="#6a6a6a" opacity="0.85"/>
<rect x="-31.8" y="540.9" width="1" height="28.6" fill="#6a6a6a" opacity="0.6"/><rect x="-11.8" y="540.9" width="1" height="28.6" fill="#6a6a6a" opacity="0.6"/>
<rect x="-22.4" y="540.9" width="2.6" height="28.6" fill="#6a6a6a" opacity="0.8"/>
<rect x="-35.6" y="576.3" width="29" height="8.5" fill="#5c5c5c"/>
<path d="M-32 579h3 M-26 579h3 M-20 579h3 M-14 579h3 M-29 582.3h3 M-23 582.3h3 M-17 582.3h3 M-11 582.3h3" stroke="#f0f0f0" stroke-width="1.8" opacity="0.75"/>
<rect x="-37.8" y="569.7" width="33.7" height="3" fill="#c6c6c6" stroke="#6a6a6a" stroke-width="0.7"/>
<path d="M-32 570v2.5 M-26 570v2.5 M-20 570v2.5 M-14 570v2.5 M-9 570v2.5" stroke="#6a6a6a" stroke-width="0.8" opacity="0.7"/>
<rect x="-3.8" y="566.6" width="9.1" height="6.5" fill="#707070" stroke="#6a6a6a" stroke-width="0.7"/>
<rect x="-39.6" y="572.5" width="44.9" height="3.9" fill="#e6e6e6" stroke="#6a6a6a" stroke-width="0.7"/>
</g>
</g>
<text x="1545.5" y="604.5" font-size="12" fill="#4040d0" font-weight="normal" text-anchor="middle" >PU5001B</text>
<g transform="translate(0,0)">
<g transform="translate(1623.8,0)">
<rect x="-33" y="527" width="14" height="3.8" fill="#303030"/><rect x="-23" y="528" width="3" height="2.4" fill="#f0f0f0"/>
<rect x="-33.3" y="530.4" width="24.8" height="6.3" fill="#c6c6c6" stroke="#6a6a6a" stroke-width="0.8"/>
<rect x="-35" y="536.5" width="28.2" height="4" fill="#e6e6e6" stroke="#6a6a6a" stroke-width="0.8"/>
<rect x="-35.8" y="540.4" width="29.2" height="29.5" fill="#c6c6c6" stroke="#6a6a6a" stroke-width="1"/>
<rect x="-31" y="541" width="7" height="28.5" fill="#dcdcdc"/><rect x="-18" y="541" width="6" height="28.5" fill="#dcdcdc"/>
<rect x="-35.3" y="540.9" width="2.6" height="28.6" fill="#6a6a6a" opacity="0.85"/><rect x="-9.8" y="540.9" width="2.8" height="28.6" fill="#6a6a6a" opacity="0.85"/>
<rect x="-31.8" y="540.9" width="1" height="28.6" fill="#6a6a6a" opacity="0.6"/><rect x="-11.8" y="540.9" width="1" height="28.6" fill="#6a6a6a" opacity="0.6"/>
<rect x="-22.4" y="540.9" width="2.6" height="28.6" fill="#6a6a6a" opacity="0.8"/>
<rect x="-35.6" y="576.3" width="29" height="8.5" fill="#5c5c5c"/>
<path d="M-32 579h3 M-26 579h3 M-20 579h3 M-14 579h3 M-29 582.3h3 M-23 582.3h3 M-17 582.3h3 M-11 582.3h3" stroke="#f0f0f0" stroke-width="1.8" opacity="0.75"/>
<rect x="-37.8" y="569.7" width="33.7" height="3" fill="#c6c6c6" stroke="#6a6a6a" stroke-width="0.7"/>
<path d="M-32 570v2.5 M-26 570v2.5 M-20 570v2.5 M-14 570v2.5 M-9 570v2.5" stroke="#6a6a6a" stroke-width="0.8" opacity="0.7"/>
<rect x="-3.8" y="566.6" width="9.1" height="6.5" fill="#707070" stroke="#6a6a6a" stroke-width="0.7"/>
<rect x="-39.6" y="572.5" width="44.9" height="3.9" fill="#e6e6e6" stroke="#6a6a6a" stroke-width="0.7"/>
</g>
</g>
<text x="1612" y="604.5" font-size="12" fill="#4040d0" font-weight="normal" text-anchor="middle" >PU5001A</text>
<path d="M488.2 213.7 L493.9 213.7" fill="none" stroke="#103030" stroke-width="1" />
<circle cx="471.2" cy="213.7" r="17.1" fill="#ffffff" stroke="#405050" stroke-width="0.6"/>
<text x="471.2" y="218.5" font-size="13" fill="#101010" font-weight="normal" text-anchor="middle" stroke="#101010" stroke-width="0.3">PIS</text>
<rect x="493.9" y="202.6" width="21.7" height="24.3" fill="#ff0000" stroke="#a00000" stroke-width="1" />
<text x="521.6" y="221.3" font-size="11" fill="#9a38cc" font-weight="bold" text-anchor="start" textLength="32" lengthAdjust="spacingAndGlyphs">J3016</text>
<path d="M549.4 247.8 L553.6 247.8" fill="none" stroke="#103030" stroke-width="1" />
<circle cx="532.4" cy="247.8" r="17.1" fill="#ffffff" stroke="#405050" stroke-width="0.6"/>
<text x="532.4" y="252.6" font-size="13" fill="#101010" font-weight="normal" text-anchor="middle" stroke="#101010" stroke-width="0.3">PIS</text>
<rect x="553.6" y="236.3" width="21.7" height="24.3" fill="#00ff00" stroke="#00a000" stroke-width="1" />
<text x="586.5" y="257.5" font-size="11" fill="#9a38cc" font-weight="bold" text-anchor="start" textLength="32" lengthAdjust="spacingAndGlyphs">J3015</text>
<path d="M606.2 211.5 L612.3 211.5" fill="none" stroke="#103030" stroke-width="1" />
<circle cx="589.2" cy="211.5" r="17.1" fill="#ffffff" stroke="#405050" stroke-width="0.6"/>
<text x="589.2" y="216.3" font-size="13" fill="#101010" font-weight="normal" text-anchor="middle" stroke="#101010" stroke-width="0.3">PIS</text>
<rect x="612.3" y="200.3" width="21.7" height="24.3" fill="#00ff00" stroke="#00a000" stroke-width="1" />
<text x="641.6" y="218" font-size="11" fill="#9a38cc" font-weight="bold" text-anchor="start" textLength="32" lengthAdjust="spacingAndGlyphs">J3014</text>
<path d="M832.2 243.2 L837.2 243.2" fill="none" stroke="#103030" stroke-width="1" />
<circle cx="815.2" cy="243.2" r="17.1" fill="#ffffff" stroke="#405050" stroke-width="0.6"/>
<text x="815.2" y="248" font-size="13" fill="#101010" font-weight="normal" text-anchor="middle" stroke="#101010" stroke-width="0.3">PIS</text>
<rect x="837.2" y="232.4" width="21.7" height="24.3" fill="#00ff00" stroke="#00a000" stroke-width="1" />
<text x="866" y="251.5" font-size="11" fill="#9a38cc" font-weight="bold" text-anchor="start" textLength="32" lengthAdjust="spacingAndGlyphs">J3013</text>
<path d="M893 277.5 L897.5 277.5" fill="none" stroke="#103030" stroke-width="1" />
<circle cx="876" cy="277.5" r="17.1" fill="#ffffff" stroke="#405050" stroke-width="0.6"/>
<text x="876" y="282.3" font-size="13" fill="#101010" font-weight="normal" text-anchor="middle" stroke="#101010" stroke-width="0.3">PIS</text>
<rect x="897.5" y="266.3" width="21.7" height="24.3" fill="#00ff00" stroke="#00a000" stroke-width="1" />
<text x="930.3" y="287.3" font-size="11" fill="#9a38cc" font-weight="bold" text-anchor="start" textLength="32" lengthAdjust="spacingAndGlyphs">J3012</text>
<path d="M950.5 241.3 L955.8 241.3" fill="none" stroke="#103030" stroke-width="1" />
<circle cx="933.5" cy="241.3" r="17.1" fill="#ffffff" stroke="#405050" stroke-width="0.6"/>
<text x="933.5" y="246.1" font-size="13" fill="#101010" font-weight="normal" text-anchor="middle" stroke="#101010" stroke-width="0.3">PIS</text>
<rect x="955.8" y="230.5" width="21.7" height="24.3" fill="#00ff00" stroke="#00a000" stroke-width="1" />
<text x="985" y="248.5" font-size="11" fill="#9a38cc" font-weight="bold" text-anchor="start" textLength="32" lengthAdjust="spacingAndGlyphs">J3011</text>
<path d="M1128.5 271.1 L1134.1 271.1" fill="none" stroke="#103030" stroke-width="1" />
<circle cx="1111.5" cy="271.1" r="17.1" fill="#ffffff" stroke="#405050" stroke-width="0.6"/>
<text x="1111.5" y="275.9" font-size="13" fill="#101010" font-weight="normal" text-anchor="middle" stroke="#101010" stroke-width="0.3">PIS</text>
<rect x="1134.1" y="260.4" width="21.7" height="24.3" fill="#00ff00" stroke="#00a000" stroke-width="1" />
<text x="1162.3" y="279.4" font-size="11" fill="#9a38cc" font-weight="bold" text-anchor="start" textLength="32" lengthAdjust="spacingAndGlyphs">J3010</text>
<path d="M1190.7 305.9 L1194.8 305.9" fill="none" stroke="#103030" stroke-width="1" />
<circle cx="1173.7" cy="305.9" r="17.1" fill="#ffffff" stroke="#405050" stroke-width="0.6"/>
<text x="1173.7" y="310.7" font-size="13" fill="#101010" font-weight="normal" text-anchor="middle" stroke="#101010" stroke-width="0.3">PIS</text>
<rect x="1194.8" y="294.5" width="21.7" height="24.3" fill="#00ff00" stroke="#00a000" stroke-width="1" />
<text x="1227.3" y="316.2" font-size="11" fill="#9a38cc" font-weight="bold" text-anchor="start" textLength="32" lengthAdjust="spacingAndGlyphs">J3009</text>
<path d="M1248.5 269.7 L1254.4 269.7" fill="none" stroke="#103030" stroke-width="1" />
<circle cx="1231.5" cy="269.7" r="17.1" fill="#ffffff" stroke="#405050" stroke-width="0.6"/>
<text x="1231.5" y="274.5" font-size="13" fill="#101010" font-weight="normal" text-anchor="middle" stroke="#101010" stroke-width="0.3">PIS</text>
<rect x="1254.4" y="258.3" width="21.7" height="24.3" fill="#00ff00" stroke="#00a000" stroke-width="1" />
<text x="1284.4" y="276.5" font-size="11" fill="#9a38cc" font-weight="bold" text-anchor="start" textLength="32" lengthAdjust="spacingAndGlyphs">J3008</text>
<path d="M1476.8 306.1 L1482.5 306.1" fill="none" stroke="#103030" stroke-width="1" />
<circle cx="1459.8" cy="306.1" r="17.1" fill="#ffffff" stroke="#405050" stroke-width="0.6"/>
<text x="1459.8" y="310.9" font-size="13" fill="#101010" font-weight="normal" text-anchor="middle" stroke="#101010" stroke-width="0.3">PIS</text>
<rect x="1482.5" y="295.4" width="21.7" height="24.3" fill="#00ff00" stroke="#00a000" stroke-width="1" />
<text x="1510.8" y="313.9" font-size="11" fill="#9a38cc" font-weight="bold" text-anchor="start" textLength="32" lengthAdjust="spacingAndGlyphs">J3007</text>
<path d="M1539 340.4 L1543.4 340.4" fill="none" stroke="#103030" stroke-width="1" />
<circle cx="1522" cy="340.4" r="17.1" fill="#ffffff" stroke="#405050" stroke-width="0.6"/>
<text x="1522" y="345.2" font-size="13" fill="#101010" font-weight="normal" text-anchor="middle" stroke="#101010" stroke-width="0.3">PIS</text>
<rect x="1543.4" y="329.2" width="21.7" height="24.3" fill="#ff0000" stroke="#a00000" stroke-width="1" />
<text x="1576.3" y="349.6" font-size="11" fill="#9a38cc" font-weight="bold" text-anchor="start" textLength="32" lengthAdjust="spacingAndGlyphs">J3006</text>
<path d="M1596.5 304 L1601.6 304" fill="none" stroke="#103030" stroke-width="1" />
<circle cx="1579.5" cy="304" r="17.1" fill="#ffffff" stroke="#405050" stroke-width="0.6"/>
<text x="1579.5" y="308.8" font-size="13" fill="#101010" font-weight="normal" text-anchor="middle" stroke="#101010" stroke-width="0.3">PIS</text>
<rect x="1601.6" y="293.3" width="21.7" height="24.3" fill="#00ff00" stroke="#00a000" stroke-width="1" />
<text x="1632" y="311.4" font-size="11" fill="#9a38cc" font-weight="bold" text-anchor="start" textLength="32" lengthAdjust="spacingAndGlyphs">J3005</text>
<path d="M154.5 364 L154.5 393" fill="none" stroke="#000" stroke-width="1" />
<circle cx="155.6" cy="348.8" r="15.5" fill="#fff" stroke="#303030" stroke-width="0.7"/>
<text x="155.6" y="353.3" font-size="12" fill="#101010" font-weight="bold" text-anchor="middle" >M</text>
<path d="M153.2 488 L153.2 474.3 L192 474.3" fill="none" stroke="#000" stroke-width="1" />
<circle cx="206.3" cy="476" r="15.2" fill="#fff" stroke="#303030" stroke-width="0.7"/>
<text x="206.3" y="480.5" font-size="12" fill="#101010" font-weight="bold" text-anchor="middle" >M</text>
<rect x="147.5" y="392.4" width="13.5" height="44.6" fill="#00ff00" stroke="#20a020" stroke-width="1" />
<rect x="147.5" y="487" width="13.5" height="43.7" fill="#00ff00" stroke="#20a020" stroke-width="1" />
<text x="180.3" y="421.4" font-size="12" fill="#3c0000" font-weight="bold" text-anchor="start" textLength="41.5" lengthAdjust="spacingAndGlyphs">GT7001</text>
<text x="180.3" y="507.5" font-size="12" fill="#3c0000" font-weight="bold" text-anchor="start" textLength="41.5" lengthAdjust="spacingAndGlyphs">GT7002</text>
<path d="M654.3 377 a14.3 14.3 0 1 1 26.5 7.5" fill="none" stroke="#002828" stroke-width="1.1"/>
<path d="M792.3 377 a14.3 14.3 0 1 0 -26.5 7.5" fill="none" stroke="#002828" stroke-width="1.1"/>
<polygon points="654.3,386.8 647.6,375.2 661,375.2" fill="#000" />
<polygon points="792.3,386.8 785.6,375.2 799,375.2" fill="#000" />
<text x="690" y="378.3" font-size="12.5" fill="#062c2c" font-weight="normal" text-anchor="start" textLength="70" lengthAdjust="spacingAndGlyphs" stroke="#062c2c" stroke-width="0.35">OVERFLOW</text>
<path d="M1297.5 377 a14.3 14.3 0 1 1 26.5 7.5" fill="none" stroke="#002828" stroke-width="1.1"/>
<path d="M1435.7 377 a14.3 14.3 0 1 0 -26.5 7.5" fill="none" stroke="#002828" stroke-width="1.1"/>
<polygon points="1297.5,386.8 1290.8,375.2 1304.2,375.2" fill="#000" />
<polygon points="1435.7,386.8 1429,375.2 1442.4,375.2" fill="#000" />
<text x="1334" y="378.3" font-size="12.5" fill="#062c2c" font-weight="normal" text-anchor="start" textLength="70" lengthAdjust="spacingAndGlyphs" stroke="#062c2c" stroke-width="0.35">OVERFLOW</text>
<rect x="24" y="114" width="160.6" height="28.5" fill="#ffffff" stroke="#1020c0" stroke-width="2" />
<text x="30.6" y="132.85" font-size="12.3" fill="#181818" font-weight="normal" text-anchor="start" textLength="123.6" lengthAdjust="spacingAndGlyphs" stroke="#181818" stroke-width="0.5">FROM CASS BASIN 1</text>
<polygon points="166.6,115 184.3,128.25 166.6,141.5" fill="#000" />
<rect x="24" y="148" width="160.6" height="28.5" fill="#ffffff" stroke="#1020c0" stroke-width="2" />
<text x="30.6" y="166.85" font-size="12.3" fill="#181818" font-weight="normal" text-anchor="start" textLength="123.6" lengthAdjust="spacingAndGlyphs" stroke="#181818" stroke-width="0.5">FROM CASS BASIN 2</text>
<polygon points="166.6,149 184.3,162.25 166.6,175.5" fill="#000" />
<rect x="24" y="181" width="160.6" height="28.5" fill="#ffffff" stroke="#1020c0" stroke-width="2" />
<text x="30.6" y="199.85" font-size="12.3" fill="#181818" font-weight="normal" text-anchor="start" textLength="123.6" lengthAdjust="spacingAndGlyphs" stroke="#181818" stroke-width="0.5">FROM CASS BASIN 3</text>
<polygon points="166.6,182 184.3,195.25 166.6,208.5" fill="#000" />
<rect x="24" y="214.5" width="160.6" height="28.5" fill="#ffffff" stroke="#1020c0" stroke-width="2" />
<text x="30.6" y="233.35" font-size="12.3" fill="#181818" font-weight="normal" text-anchor="start" textLength="123.6" lengthAdjust="spacingAndGlyphs" stroke="#181818" stroke-width="0.5">FROM CASS BASIN 4</text>
<polygon points="166.6,215.5 184.3,228.75 166.6,242" fill="#000" />
<rect x="22" y="248.5" width="163.5" height="29" fill="#ffffff" stroke="#1020c0" stroke-width="2" />
<text x="28.8" y="267.6" font-size="12.3" fill="#181818" font-weight="normal" text-anchor="start" textLength="133.7" lengthAdjust="spacingAndGlyphs" stroke="#181818" stroke-width="0.5">FROM DYNAMICS SEP.</text>
<polygon points="165,249.5 184,263 165,276.5" fill="#000" />
<rect x="1657.2" y="156.7" width="141.5" height="28" fill="#ffffff" stroke="#1020c0" stroke-width="2" />
<text x="1664.3" y="175.3" font-size="12.3" fill="#181818" font-weight="normal" text-anchor="start" textLength="104.7" lengthAdjust="spacingAndGlyphs" stroke="#181818" stroke-width="0.5">TO CASS BASIN 4</text>
<polygon points="1778.3,157.7 1797.4,170.7 1778.3,183.7" fill="#000" />
<rect x="1657.2" y="191" width="141.5" height="27.7" fill="#ffffff" stroke="#1020c0" stroke-width="2" />
<text x="1664.3" y="209.45" font-size="12.3" fill="#181818" font-weight="normal" text-anchor="start" textLength="104.7" lengthAdjust="spacingAndGlyphs" stroke="#181818" stroke-width="0.5">TO CASS BASIN 3</text>
<polygon points="1778.3,192 1797.4,204.85 1778.3,217.7" fill="#000" />
<rect x="1657.2" y="224.6" width="141.5" height="27.5" fill="#ffffff" stroke="#1020c0" stroke-width="2" />
<text x="1664.3" y="242.95" font-size="12.3" fill="#181818" font-weight="normal" text-anchor="start" textLength="104.7" lengthAdjust="spacingAndGlyphs" stroke="#181818" stroke-width="0.5">TO CASS BASIN 2</text>
<polygon points="1778.3,225.6 1797.4,238.35 1778.3,251.1" fill="#000" />
<rect x="1657.2" y="257.4" width="141.5" height="28.5" fill="#ffffff" stroke="#1020c0" stroke-width="2" />
<text x="1664.3" y="276.25" font-size="12.3" fill="#181818" font-weight="normal" text-anchor="start" textLength="104.7" lengthAdjust="spacingAndGlyphs" stroke="#181818" stroke-width="0.5">TO CASS BASIN 1</text>
<polygon points="1778.3,258.4 1797.4,271.65 1778.3,284.9" fill="#000" />
<rect x="1646.4" y="868.6" width="142.6" height="29.9" fill="#ffffff" stroke="#1020c0" stroke-width="2" />
<text x="1653.6" y="888.15" font-size="12.3" fill="#181818" font-weight="normal" text-anchor="start" textLength="111.4" lengthAdjust="spacingAndGlyphs" stroke="#181818" stroke-width="0.5">TO WASTE WATER</text>
<polygon points="1767.7,869.6 1787,883.55 1767.7,897.5" fill="#000" />
<rect x="182" y="293" width="112" height="28.5" fill="#ffffff" stroke="#303030" stroke-width="1" />
<rect x="182" y="321.5" width="112" height="28.5" fill="#ffffff" stroke="#303030" stroke-width="1" />
<text x="238" y="312.05" font-size="13" fill="#000" font-weight="bold" text-anchor="middle" >J2030</text>
<text x="192.4" y="341.2" font-size="12" fill="#101010" font-weight="normal" text-anchor="start" >LE</text>
<text x="228.2" y="341" font-size="12" fill="#4444cc" font-weight="normal" text-anchor="start" textLength="25.7" lengthAdjust="spacingAndGlyphs">2.72</text>
<text x="290" y="341.2" font-size="12" fill="#101010" font-weight="bold" text-anchor="end" >M.</text>
<rect x="363" y="289.5" width="112" height="28.5" fill="#ffffff" stroke="#303030" stroke-width="1" />
<rect x="363" y="318" width="112" height="28.5" fill="#ffffff" stroke="#303030" stroke-width="1" />
<text x="418" y="308.55" font-size="13" fill="#000" font-weight="bold" text-anchor="middle" >J2034</text>
<text x="371.4" y="337.7" font-size="12" fill="#101010" font-weight="normal" text-anchor="start" >LE</text>
<text x="405.1" y="337.5" font-size="12" fill="#4444cc" font-weight="normal" text-anchor="start" textLength="25.7" lengthAdjust="spacingAndGlyphs">5.14</text>
<text x="467.2" y="337.7" font-size="12" fill="#101010" font-weight="bold" text-anchor="end" >M.</text>
<rect x="727.5" y="289.5" width="112" height="28.5" fill="#ffffff" stroke="#303030" stroke-width="1" />
<rect x="727.5" y="318" width="112" height="28.5" fill="#ffffff" stroke="#303030" stroke-width="1" />
<text x="782.5" y="308.55" font-size="13" fill="#000" font-weight="bold" text-anchor="middle" >J2033</text>
<text x="738.7" y="337.7" font-size="12" fill="#101010" font-weight="normal" text-anchor="start" >LE</text>
<text x="771.4" y="337.5" font-size="12" fill="#4444cc" font-weight="normal" text-anchor="start" textLength="25.7" lengthAdjust="spacingAndGlyphs">5.13</text>
<text x="833.5" y="337.7" font-size="12" fill="#101010" font-weight="bold" text-anchor="end" >M.</text>
<rect x="1030.5" y="294" width="112" height="28.5" fill="#ffffff" stroke="#303030" stroke-width="1" />
<rect x="1030.5" y="322.5" width="112" height="28.5" fill="#ffffff" stroke="#303030" stroke-width="1" />
<text x="1086.5" y="313.05" font-size="13" fill="#000" font-weight="bold" text-anchor="middle" >J2032</text>
<text x="1040.2" y="342.2" font-size="12" fill="#101010" font-weight="normal" text-anchor="start" >LE</text>
<text x="1073.9" y="342" font-size="12" fill="#4444cc" font-weight="normal" text-anchor="start" textLength="25.7" lengthAdjust="spacingAndGlyphs">5.24</text>
<text x="1136" y="342.2" font-size="12" fill="#101010" font-weight="bold" text-anchor="end" >M.</text>
<rect x="1321.5" y="294" width="112" height="28.5" fill="#ffffff" stroke="#303030" stroke-width="1" />
<rect x="1321.5" y="322.5" width="112" height="28.5" fill="#ffffff" stroke="#303030" stroke-width="1" />
<text x="1377.5" y="313.05" font-size="13" fill="#000" font-weight="bold" text-anchor="middle" >J2031</text>
<text x="1331.2" y="342.2" font-size="12" fill="#101010" font-weight="normal" text-anchor="start" >LE</text>
<text x="1364.9" y="342" font-size="12" fill="#4444cc" font-weight="normal" text-anchor="start" textLength="25.7" lengthAdjust="spacingAndGlyphs">5.34</text>
<text x="1427" y="342.2" font-size="12" fill="#101010" font-weight="bold" text-anchor="end" >M.</text>
<rect x="338.5" y="663.5" width="112" height="28" fill="#ffffff" stroke="#303030" stroke-width="1" />
<rect x="338.5" y="691.5" width="112" height="27.5" fill="#ffffff" stroke="#303030" stroke-width="1" />
<text x="369.5" y="682.3" font-size="13" fill="#000" font-weight="bold" text-anchor="start" textLength="50" lengthAdjust="spacingAndGlyphs">FM0010</text>
<text x="407.5" y="711" font-size="12" fill="#4444cc" font-weight="normal" text-anchor="end" textLength="30.5" lengthAdjust="spacingAndGlyphs">-0.13</text>
<text x="409.5" y="709.5" font-size="12" fill="#181818" font-weight="bold" text-anchor="start" textLength="38" lengthAdjust="spacingAndGlyphs">m3/Hr.</text>
<rect x="453" y="663.5" width="112" height="28" fill="#ffffff" stroke="#303030" stroke-width="1" />
<rect x="453" y="691.5" width="112" height="27.5" fill="#ffffff" stroke="#303030" stroke-width="1" />
<text x="484" y="682.3" font-size="13" fill="#000" font-weight="bold" text-anchor="start" textLength="50" lengthAdjust="spacingAndGlyphs">FM0011</text>
<text x="522" y="711" font-size="12" fill="#4444cc" font-weight="normal" text-anchor="end" textLength="30.5" lengthAdjust="spacingAndGlyphs">-0.13</text>
<text x="524" y="709.5" font-size="12" fill="#181818" font-weight="bold" text-anchor="start" textLength="38" lengthAdjust="spacingAndGlyphs">m3/Hr.</text>
<rect x="567.5" y="662.5" width="112" height="28" fill="#ffffff" stroke="#303030" stroke-width="1" />
<rect x="567.5" y="690.5" width="112" height="27.5" fill="#ffffff" stroke="#303030" stroke-width="1" />
<text x="598.5" y="681.3" font-size="13" fill="#000" font-weight="bold" text-anchor="start" textLength="50" lengthAdjust="spacingAndGlyphs">FM0012</text>
<text x="636.5" y="710" font-size="12" fill="#4444cc" font-weight="normal" text-anchor="end" textLength="30.5" lengthAdjust="spacingAndGlyphs">-0.13</text>
<text x="638.5" y="708.5" font-size="12" fill="#181818" font-weight="bold" text-anchor="start" textLength="38" lengthAdjust="spacingAndGlyphs">m3/Hr.</text>
<rect x="682.5" y="662.5" width="112" height="28" fill="#ffffff" stroke="#303030" stroke-width="1" />
<rect x="682.5" y="690.5" width="112" height="27.5" fill="#ffffff" stroke="#303030" stroke-width="1" />
<text x="713.5" y="681.3" font-size="13" fill="#000" font-weight="bold" text-anchor="start" textLength="50" lengthAdjust="spacingAndGlyphs">FM0007</text>
<text x="751.5" y="710" font-size="12" fill="#4444cc" font-weight="normal" text-anchor="end" textLength="30.5" lengthAdjust="spacingAndGlyphs">-0.13</text>
<text x="753.5" y="708.5" font-size="12" fill="#181818" font-weight="bold" text-anchor="start" textLength="38" lengthAdjust="spacingAndGlyphs">m3/Hr.</text>
<rect x="797" y="662.5" width="112" height="28" fill="#ffffff" stroke="#303030" stroke-width="1" />
<rect x="797" y="690.5" width="112" height="27.5" fill="#ffffff" stroke="#303030" stroke-width="1" />
<text x="828" y="681.3" font-size="13" fill="#000" font-weight="bold" text-anchor="start" textLength="50" lengthAdjust="spacingAndGlyphs">FM0008</text>
<text x="866" y="710" font-size="12" fill="#4444cc" font-weight="normal" text-anchor="end" textLength="30.5" lengthAdjust="spacingAndGlyphs">-0.13</text>
<text x="868" y="708.5" font-size="12" fill="#181818" font-weight="bold" text-anchor="start" textLength="38" lengthAdjust="spacingAndGlyphs">m3/Hr.</text>
<rect x="911.5" y="661.5" width="112" height="28" fill="#ffffff" stroke="#303030" stroke-width="1" />
<rect x="911.5" y="689.5" width="112" height="27.5" fill="#ffffff" stroke="#303030" stroke-width="1" />
<text x="942.5" y="680.3" font-size="13" fill="#000" font-weight="bold" text-anchor="start" textLength="50" lengthAdjust="spacingAndGlyphs">FM0009</text>
<text x="980.5" y="709" font-size="12" fill="#4444cc" font-weight="normal" text-anchor="end" textLength="30.5" lengthAdjust="spacingAndGlyphs">-0.13</text>
<text x="982.5" y="707.5" font-size="12" fill="#181818" font-weight="bold" text-anchor="start" textLength="38" lengthAdjust="spacingAndGlyphs">m3/Hr.</text>
<rect x="1026" y="661.5" width="112" height="28" fill="#ffffff" stroke="#303030" stroke-width="1" />
<rect x="1026" y="689.5" width="112" height="27.5" fill="#ffffff" stroke="#303030" stroke-width="1" />
<text x="1057" y="680.3" font-size="13" fill="#000" font-weight="bold" text-anchor="start" textLength="50" lengthAdjust="spacingAndGlyphs">FM0004</text>
<text x="1095" y="709" font-size="12" fill="#4444cc" font-weight="normal" text-anchor="end" textLength="30.5" lengthAdjust="spacingAndGlyphs">-0.13</text>
<text x="1097" y="707.5" font-size="12" fill="#181818" font-weight="bold" text-anchor="start" textLength="38" lengthAdjust="spacingAndGlyphs">m3/Hr.</text>
<rect x="1140.5" y="661.5" width="112" height="28" fill="#ffffff" stroke="#303030" stroke-width="1" />
<rect x="1140.5" y="689.5" width="112" height="27.5" fill="#ffffff" stroke="#303030" stroke-width="1" />
<text x="1171.5" y="680.3" font-size="13" fill="#000" font-weight="bold" text-anchor="start" textLength="50" lengthAdjust="spacingAndGlyphs">FM0005</text>
<text x="1209.5" y="709" font-size="12" fill="#4444cc" font-weight="normal" text-anchor="end" textLength="30.5" lengthAdjust="spacingAndGlyphs">-0.13</text>
<text x="1211.5" y="707.5" font-size="12" fill="#181818" font-weight="bold" text-anchor="start" textLength="38" lengthAdjust="spacingAndGlyphs">m3/Hr.</text>
<rect x="1255" y="660.5" width="112" height="28" fill="#ffffff" stroke="#303030" stroke-width="1" />
<rect x="1255" y="688.5" width="112" height="27.5" fill="#ffffff" stroke="#303030" stroke-width="1" />
<text x="1286" y="679.3" font-size="13" fill="#000" font-weight="bold" text-anchor="start" textLength="50" lengthAdjust="spacingAndGlyphs">FM0006</text>
<text x="1324" y="708" font-size="12" fill="#4444cc" font-weight="normal" text-anchor="end" textLength="30.5" lengthAdjust="spacingAndGlyphs">-0.13</text>
<text x="1326" y="706.5" font-size="12" fill="#181818" font-weight="bold" text-anchor="start" textLength="38" lengthAdjust="spacingAndGlyphs">m3/Hr.</text>
<rect x="1371" y="659.5" width="112" height="28" fill="#ffffff" stroke="#303030" stroke-width="1" />
<rect x="1371" y="687.5" width="112" height="27.5" fill="#ffffff" stroke="#303030" stroke-width="1" />
<text x="1402" y="678.3" font-size="13" fill="#000" font-weight="bold" text-anchor="start" textLength="50" lengthAdjust="spacingAndGlyphs">FM0001</text>
<text x="1440" y="707" font-size="12" fill="#4444cc" font-weight="normal" text-anchor="end" textLength="30.5" lengthAdjust="spacingAndGlyphs">-0.13</text>
<text x="1442" y="705.5" font-size="12" fill="#181818" font-weight="bold" text-anchor="start" textLength="38" lengthAdjust="spacingAndGlyphs">m3/Hr.</text>
<rect x="1486" y="659.5" width="112" height="28" fill="#ffffff" stroke="#303030" stroke-width="1" />
<rect x="1486" y="687.5" width="112" height="27.5" fill="#ffffff" stroke="#303030" stroke-width="1" />
<text x="1517" y="678.3" font-size="13" fill="#000" font-weight="bold" text-anchor="start" textLength="50" lengthAdjust="spacingAndGlyphs">FM0002</text>
<text x="1555" y="707" font-size="12" fill="#4444cc" font-weight="normal" text-anchor="end" textLength="30.5" lengthAdjust="spacingAndGlyphs">-0.13</text>
<text x="1557" y="705.5" font-size="12" fill="#181818" font-weight="bold" text-anchor="start" textLength="38" lengthAdjust="spacingAndGlyphs">m3/Hr.</text>
<rect x="1600.5" y="658.5" width="112" height="28" fill="#ffffff" stroke="#303030" stroke-width="1" />
<rect x="1600.5" y="686.5" width="112" height="27.5" fill="#ffffff" stroke="#303030" stroke-width="1" />
<text x="1631.5" y="677.3" font-size="13" fill="#000" font-weight="bold" text-anchor="start" textLength="50" lengthAdjust="spacingAndGlyphs">FM0003</text>
<text x="1669.5" y="706" font-size="12" fill="#4444cc" font-weight="normal" text-anchor="end" textLength="30.5" lengthAdjust="spacingAndGlyphs">-0.13</text>
<text x="1671.5" y="704.5" font-size="12" fill="#181818" font-weight="bold" text-anchor="start" textLength="38" lengthAdjust="spacingAndGlyphs">m3/Hr.</text>
<rect x="349.5" y="723.5" width="112" height="28.5" fill="#ffffff" stroke="#303030" stroke-width="1" />
<rect x="349.5" y="752" width="112" height="28.5" fill="#ffffff" stroke="#303030" stroke-width="1" />
<text x="382.5" y="742.55" font-size="13" fill="#000" font-weight="bold" text-anchor="start" textLength="38" lengthAdjust="spacingAndGlyphs">J1005</text>
<text x="414" y="772.5" font-size="12" fill="#4444cc" font-weight="normal" text-anchor="end" textLength="37.3" lengthAdjust="spacingAndGlyphs">-0.135</text>
<text x="414" y="771" font-size="12" fill="#181818" font-weight="bold" text-anchor="start" textLength="44.5" lengthAdjust="spacingAndGlyphs">m3/Sec</text>
<rect x="1040.2" y="751.5" width="111.6" height="28.4" fill="#ffffff" stroke="#303030" stroke-width="1" />
<rect x="1040.2" y="779.9" width="111.6" height="28.5" fill="#ffffff" stroke="#303030" stroke-width="1" />
<text x="1075.4" y="770.7" font-size="13" fill="#000" font-weight="bold" text-anchor="start" textLength="44.3" lengthAdjust="spacingAndGlyphs">TOTAL</text>
<text x="1101.7" y="798" font-size="12" fill="#4444cc" font-weight="normal" text-anchor="end" textLength="26.6" lengthAdjust="spacingAndGlyphs">-999</text>
<text x="1111.6" y="798.3" font-size="12" fill="#181818" font-weight="bold" text-anchor="start" textLength="33.3" lengthAdjust="spacingAndGlyphs">L/Sec</text>
<rect x="1469.3" y="733.5" width="112.2" height="28.5" fill="#ffffff" stroke="#303030" stroke-width="1" />
<rect x="1469.3" y="763.5" width="112.2" height="28" fill="#ffffff" stroke="#303030" stroke-width="1" />
<text x="1507.5" y="753.25" font-size="13" fill="#000" font-weight="bold" text-anchor="start" textLength="37" lengthAdjust="spacingAndGlyphs">J1006</text>
<text x="1533.6" y="780.9" font-size="12" fill="#4444cc" font-weight="normal" text-anchor="end" textLength="26.6" lengthAdjust="spacingAndGlyphs">-984</text>
<text x="1540.6" y="780.9" font-size="12" fill="#181818" font-weight="bold" text-anchor="start" textLength="33.3" lengthAdjust="spacingAndGlyphs">L/Sec</text>
<rect x="1469.3" y="793.7" width="112.2" height="28.1" fill="#ffffff" stroke="#303030" stroke-width="1" />
<rect x="1469.3" y="823" width="112.2" height="27.8" fill="#ffffff" stroke="#303030" stroke-width="1" />
<text x="1507.5" y="813.25" font-size="13" fill="#000" font-weight="bold" text-anchor="start" textLength="37" lengthAdjust="spacingAndGlyphs">J1007</text>
<text x="1533.6" y="840.6" font-size="12" fill="#4444cc" font-weight="normal" text-anchor="end" textLength="26.6" lengthAdjust="spacingAndGlyphs">-999</text>
<text x="1539.5" y="840.6" font-size="12" fill="#181818" font-weight="bold" text-anchor="start" textLength="33.3" lengthAdjust="spacingAndGlyphs">L/Sec</text>
<rect x="1470.3" y="854" width="112.2" height="28.2" fill="#ffffff" stroke="#303030" stroke-width="1" />
<rect x="1470.3" y="882.2" width="112.2" height="28.8" fill="#ffffff" stroke="#303030" stroke-width="1" />
<text x="1508.5" y="873.6" font-size="13" fill="#000" font-weight="bold" text-anchor="start" textLength="37" lengthAdjust="spacingAndGlyphs">J1008</text>
<text x="1532.4" y="899.9" font-size="12" fill="#505050" font-weight="normal" text-anchor="end" textLength="26.6" lengthAdjust="spacingAndGlyphs">-999</text>
<text x="1540.6" y="899.9" font-size="12" fill="#181818" font-weight="bold" text-anchor="start" textLength="33.3" lengthAdjust="spacingAndGlyphs">L/Sec</text>
<path d="M1582.5 883.5 L1630 883.5" fill="none" stroke="#000" stroke-width="1.2" />
<polygon points="1641.4,883.5 1629,876.9 1629,890.1" fill="#000" />
<text x="480.5" y="655.4" font-size="13.2" fill="#0a28d8" font-weight="bold" text-anchor="start" textLength="145" lengthAdjust="spacing">CASS P.S. LEVEL 4</text>
<text x="829.5" y="655.4" font-size="13.2" fill="#0a28d8" font-weight="bold" text-anchor="start" textLength="145" lengthAdjust="spacing">CASS P.S. LEVEL 3</text>
<text x="1121" y="655.4" font-size="13.2" fill="#0a28d8" font-weight="bold" text-anchor="start" textLength="145" lengthAdjust="spacing">CASS P.S. LEVEL 2</text>
<text x="1472.5" y="655.4" font-size="13.2" fill="#0a28d8" font-weight="bold" text-anchor="start" textLength="145" lengthAdjust="spacing">CASS P.S. LEVEL 1</text>
<polygon points="692.155,869.779 713.149,865.801 729.724,857.624 746.298,853.867 756.243,854.309 768.398,859.834 783.867,864.254 796.022,866.022 819.669,866.022 834.696,855.414 840.221,853.646 872.265,853.646 885.525,858.729 893.26,861.602 903.204,863.149 924.199,863.149 938.564,855.414 948.508,852.762 973.923,852.762 984.972,856.519 1000.44,862.486 1009.28,864.917" fill="#02f2f4" />
<path d="M692.155 869.779 L713.149 865.801 L729.724 857.624 L746.298 853.867 L756.243 854.309 L768.398 859.834 L783.867 864.254 L796.022 866.022 L819.669 866.022 L834.696 855.414 L840.221 853.646 L872.265 853.646 L885.525 858.729 L893.26 861.602 L903.204 863.149 L924.199 863.149 L938.564 855.414 L948.508 852.762 L973.923 852.762 L984.972 856.519 L1000.44 862.486 L1009.28 864.917" fill="none" stroke="#0c4444" stroke-width="1.3" stroke-linejoin="round"/>
<polygon points="716.455,895.179 737.449,891.201 754.024,883.024 770.598,879.267 780.543,879.709 792.698,885.234 808.167,889.654 820.322,891.422 843.969,891.422 858.996,880.814 864.521,879.046 896.565,879.046 909.825,884.129 917.56,887.002 927.504,888.549 948.499,888.549 962.864,880.814 972.808,878.162 998.223,878.162 1009.27,881.919 1024.74,887.886 1033.58,890.317" fill="#02f2f4" />
<path d="M716.455 895.179 L737.449 891.201 L754.024 883.024 L770.598 879.267 L780.543 879.709 L792.698 885.234 L808.167 889.654 L820.322 891.422 L843.969 891.422 L858.996 880.814 L864.521 879.046 L896.565 879.046 L909.825 884.129 L917.56 887.002 L927.504 888.549 L948.499 888.549 L962.864 880.814 L972.808 878.162 L998.223 878.162 L1009.27 881.919 L1024.74 887.886 L1033.58 890.317" fill="none" stroke="#0c4444" stroke-width="1.3" stroke-linejoin="round"/>
<polygon points="745.155,927.279 766.149,923.301 782.724,915.124 799.298,911.367 809.243,911.809 821.398,917.334 836.867,921.754 849.022,923.522 872.669,923.522 887.696,912.914 893.221,911.146 925.265,911.146 938.525,916.229 946.26,919.102 956.204,920.649 977.199,920.649 991.564,912.914 1001.51,910.262 1026.92,910.262 1037.97,914.019 1053.44,919.986 1062.28,922.417" fill="#02f2f4" />
<path d="M745.155 927.279 L766.149 923.301 L782.724 915.124 L799.298 911.367 L809.243 911.809 L821.398 917.334 L836.867 921.754 L849.022 923.522 L872.669 923.522 L887.696 912.914 L893.221 911.146 L925.265 911.146 L938.525 916.229 L946.26 919.102 L956.204 920.649 L977.199 920.649 L991.564 912.914 L1001.51 910.262 L1026.92 910.262 L1037.97 914.019 L1053.44 919.986 L1062.28 922.417" fill="none" stroke="#0c4444" stroke-width="1.3" stroke-linejoin="round"/>
<text x="804" y="960.6" font-size="13.5" fill="#101010" font-weight="bold" text-anchor="start" textLength="168.9" lengthAdjust="spacing">CHAO PHRAYA RIVER</text>
<text x="1150.7" y="964.2" font-size="13.5" fill="#101010" font-weight="bold" text-anchor="start" textLength="224.4" lengthAdjust="spacing">OUTFALL FROM CASS BASIN</text>
<text x="1038.7" y="829.7" font-size="12" fill="#1c2c2c" font-weight="normal" text-anchor="start" textLength="55.9" lengthAdjust="spacingAndGlyphs" stroke="#1c2c2c" stroke-width="0.3">TO RIVER</text>
<path d="M1079 848.3 L1125 848.3" fill="none" stroke="#000" stroke-width="1.2" />
<polygon points="1067.3,848.3 1079.8,841.7 1079.8,854.9" fill="#000" />
<polygon points="1088.1,937.427 1088.1,914.918 1166.3,804.233 1241.71,804.233 1255.64,782.188 1310.63,782.188 1324.09,761.768 1376.53,761.768 1389.76,741.348 1467.26,741.348 1467.26,830.918 1396.72,937.427" fill="#860000" stroke="#400000" stroke-width="1.2" stroke-linejoin="round"/>
<path d="M1088.1 914.918 L1183.7 914.918 L1183.7 892.41 L1251.69 892.41 L1251.69 871.526 L1318.75 871.526 L1318.75 851.106 L1396.72 851.106 L1396.72 937.427" fill="none" stroke="#3c0000" stroke-width="1.2" />
<path d="M1183.7 892.41 L1241.71 804.233" fill="none" stroke="#3c0000" stroke-width="1.2" />
<path d="M1251.69 871.526 L1310.63 782.188" fill="none" stroke="#3c0000" stroke-width="1.2" />
<path d="M1318.75 851.106 L1376.53 761.768" fill="none" stroke="#3c0000" stroke-width="1.2" />
<path d="M1396.72 851.106 L1467.26 741.348" fill="none" stroke="#3c0000" stroke-width="1.2" />
<path d="M1342.42 814.675 L1420.16 814.675" fill="none" stroke="#3c0000" stroke-width="1.2" />
<path d="M1367.95 775.227 L1445.45 775.227" fill="none" stroke="#3c0000" stroke-width="1.2" />
<path d="M1422.71 752.486 L1422.71 761.304" fill="none" stroke="#300000" stroke-width="1.5" />
<circle cx="1422.25" cy="736.707" r="17.2" fill="#ffffff"/>
<text x="1422.25" y="741.507" font-size="13" fill="#101010" font-weight="normal" text-anchor="middle" >FE</text>
<path d="M1396.95 789.614 L1396.95 802.376" fill="none" stroke="#300000" stroke-width="1.5" />
<circle cx="1396.49" cy="773.835" r="17.2" fill="#ffffff"/>
<text x="1396.49" y="778.635" font-size="13" fill="#101010" font-weight="normal" text-anchor="middle" >FE</text>
<path d="M1368.41 831.382 L1368.41 839.503" fill="none" stroke="#300000" stroke-width="1.5" />
<circle cx="1367.95" cy="815.835" r="17.2" fill="#ffffff"/>
<text x="1367.95" y="820.635" font-size="13" fill="#101010" font-weight="normal" text-anchor="middle" >FE</text>
<rect x="1665" y="940.5" width="123.5" height="34.5" fill="#f2f2f2" stroke="#b8b8b8" stroke-width="1" />
<path d="M1666 975.5 L1789 975.5 L1789 941.5" fill="none" stroke="#808080" stroke-width="1.5" />
<text x="1727" y="963" font-size="12" fill="#101010" font-weight="bold" text-anchor="middle" >MAIN</text>
<rect x="3" y="980" width="1803" height="33" fill="#ececec" />
<path d="M3 980.5 L1806 980.5" fill="none" stroke="#ffffff" stroke-width="1" />
<rect x="11" y="985" width="1700.5" height="19" fill="#ffffff" stroke="#b0b0b0" stroke-width="1" />
<path d="M11 1004.5 L11 985 L1712 985" fill="none" stroke="#484848" stroke-width="1.4" />
<path d="M9 983.5 L1803 983.5" fill="none" stroke="#9a9a9a" stroke-width="1" />
<path d="M9 983 L9 1008" fill="none" stroke="#9a9a9a" stroke-width="1" />
<path d="M9 1008.5 L1803 1008.5 L1803 983" fill="none" stroke="#ffffff" stroke-width="1" />
<circle cx="22" cy="994" r="5.800" fill="#ffffff" stroke="#404060" stroke-width="1"/>
<text x="22" y="998" font-size="10" fill="#1020c0" font-weight="bold" text-anchor="middle" font-family="Liberation Serif, serif">i</text>
<text x="32.5" y="999" font-size="11" fill="#202020" font-weight="normal" text-anchor="start" textLength="193" lengthAdjust="spacingAndGlyphs">Display "C - CLASS DISTRIBUTION SYS"</text>
<rect x="1716.5" y="986" width="32.5" height="16.5" fill="#f4f4f4" stroke="#a0a0a0" stroke-width="1" />
<path d="M1717 1003 L1749.5 1003 L1749.5 986.5" fill="none" stroke="#606060" stroke-width="1.2" />
<text x="1733" y="998.5" font-size="10.5" fill="#202020" font-weight="normal" text-anchor="middle" >Clear</text>
<rect x="1754" y="986" width="46" height="16.5" fill="#f4f4f4" stroke="#c0c0c0" stroke-width="1" />
<path d="M1754 1003 L1800.5 1003 L1800.5 986.5" fill="none" stroke="#808080" stroke-width="1.2" />
<text x="1777" y="998.5" font-size="10.5" fill="#202020" font-weight="normal" text-anchor="middle" >Clear All</text>
<rect x="0" y="1013" width="1810" height="2" fill="#484848" />
</svg>
</body></html>
